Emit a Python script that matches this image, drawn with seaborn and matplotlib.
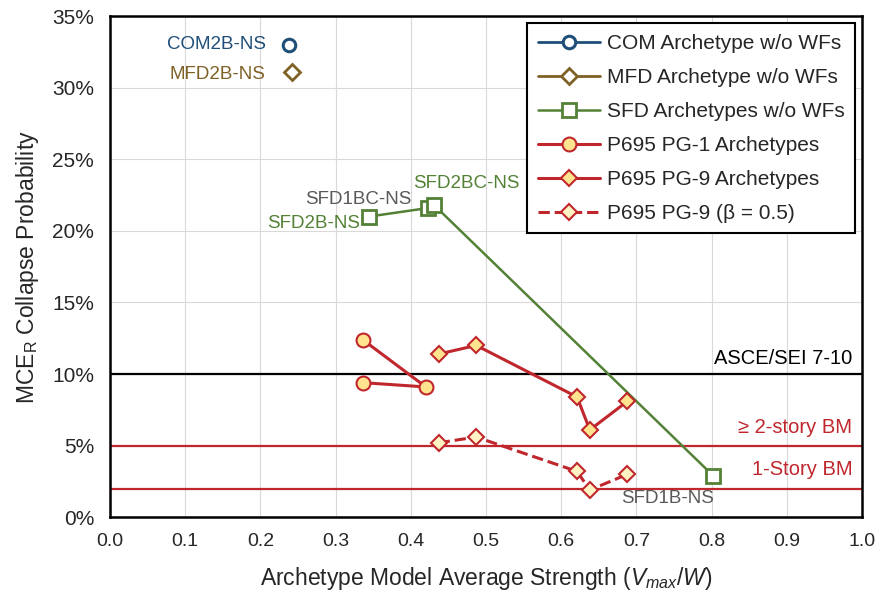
import numpy as np
import matplotlib
matplotlib.use("Agg")
import matplotlib.pyplot as plt
import seaborn as sns
from matplotlib.ticker import FuncFormatter

# data
com_x = [0.238]
com_y = [33.0]
mfd_x = [0.242]
mfd_y = [31.1]
sfd_x = [0.344, 0.423, 0.431, 0.802]
sfd_y = [21.0, 21.6, 21.8, 2.9]
sfd_names = ["SFD2B-NS", "SFD1BC-NS", "SFD2BC-NS", "SFD1B-NS"]
pg1_x = [0.336, 0.420, 0.336]
pg1_y = [12.4, 9.1, 9.4]
pg9_x = [0.437, 0.487, 0.621, 0.638, 0.688]
pg9_y = [11.4, 12.0, 8.4, 6.1, 8.1]
pg9b_x = [0.437, 0.487, 0.621, 0.638, 0.688]
pg9b_y = [5.2, 5.6, 3.2, 1.9, 3.0]
limit_lines = [10, 5, 2]
limit_labels = ["ASCE/SEI 7-10", "≥ 2-story BM", "1-Story BM"]

blue = "#1F4E79"
brown = "#7F6025"
green = "#538135"
red = "#C0272D"
gray = "#595959"
gold = "#FFE38F"
pale = "#FFF3C4"

sns.set_style("whitegrid", {"grid.color": "#D9D9D9", "axes.edgecolor": "black"})
plt.rcParams['font.family'] = ['Liberation Sans', 'DejaVu Sans']
plt.rcParams['mathtext.fontset'] = 'custom'
plt.rcParams['mathtext.rm'] = 'Liberation Sans'
plt.rcParams['mathtext.it'] = 'Liberation Sans:italic'

fig = plt.figure(figsize=(8.91, 6), dpi=100)
ax = fig.add_axes([0.1235, 0.138, 0.844, 0.835])

for val, col in zip(limit_lines, ["black", red, red]):
    ax.axhline(val, color=col, linewidth=1.6, zorder=2)

common = dict(ax=ax, estimator=None, sort=False, zorder=4)
sns.lineplot(x=com_x, y=com_y, color=blue, marker="o", markersize=9,
             markerfacecolor="white", markeredgecolor=blue, markeredgewidth=2.2,
             linewidth=2, label="COM Archetype w/o WFs", **common)
sns.lineplot(x=mfd_x, y=mfd_y, color=brown, marker="D", markersize=8,
             markerfacecolor="white", markeredgecolor=brown, markeredgewidth=2,
             linewidth=2, label="MFD Archetype w/o WFs", **common)
sns.lineplot(x=sfd_x, y=sfd_y, color=green, marker="s", markersize=10,
             markerfacecolor="white", markeredgecolor=green, markeredgewidth=2,
             linewidth=1.8, label="SFD Archetypes w/o WFs", **common)
sns.lineplot(x=pg1_x, y=pg1_y, color=red, marker="o", markersize=10,
             markerfacecolor=gold, markeredgecolor=red, markeredgewidth=1.5,
             linewidth=2.2, label="P695 PG-1 Archetypes", **common)
sns.lineplot(x=pg9_x, y=pg9_y, color=red, marker="D", markersize=8,
             markerfacecolor=gold, markeredgecolor=red, markeredgewidth=1.5,
             linewidth=2.2, label="P695 PG-9 Archetypes", **common)
sns.lineplot(x=pg9b_x, y=pg9b_y, color=red, marker="D", markersize=8,
             markerfacecolor=pale, markeredgecolor=red, markeredgewidth=1.5,
             linewidth=2.2, linestyle="--", label="P695 PG-9 (β = 0.5)", **common)

# point labels
fs = 13.5
ax.text(com_x[0] - 0.03, com_y[0], "COM2B-NS", color=blue, fontsize=fs,
        ha="right", va="center")
ax.text(mfd_x[0] - 0.036, mfd_y[0] - 0.2, "MFD2B-NS", color=brown, fontsize=fs,
        ha="right", va="center")
ax.text(0.332, 20.5, sfd_names[0], color=green, fontsize=fs, ha="right", va="center")
ax.text(0.4005, 22.2, sfd_names[1], color=gray, fontsize=fs, ha="right", va="center")
ax.text(0.403, 23.3, sfd_names[2], color=green, fontsize=fs, ha="left", va="center")
ax.text(0.803, 1.3, sfd_names[3], color=gray, fontsize=fs, ha="right", va="center")

# limit labels
ax.text(0.987, 11.1, limit_labels[0], color="black", fontsize=14.5, ha="right", va="center")
ax.text(0.987, 6.3, limit_labels[1], color=red, fontsize=14.5, ha="right", va="center")
ax.text(0.987, 3.3, limit_labels[2], color=red, fontsize=14.5, ha="right", va="center")

ax.set_xlim(0, 1.0)
ax.set_ylim(0, 35)
ax.set_xticks(np.arange(0, 1.01, 0.1))
ax.set_yticks(np.arange(0, 36, 5))
ax.yaxis.set_major_formatter(FuncFormatter(lambda v, p: "{:.0f}%".format(v)))
ax.xaxis.set_major_formatter(FuncFormatter(lambda v, p: "{:.1f}".format(v)))
ax.tick_params(axis="x", labelsize=14, pad=8)
ax.tick_params(axis="y", labelsize=15, pad=8)
for s in ax.spines.values():
    s.set_linewidth(1.8)
    s.set_color("black")

ax.set_xlabel(r"Archetype Model Average Strength ($\mathit{V_{max}}$/$\mathit{W}$)",
              fontsize=16.5, labelpad=11)
ax.set_ylabel(r"MCE$_\mathrm{R}$ Collapse Probability", fontsize=16.5, labelpad=8)

leg = ax.legend(loc="upper right", fontsize=15, frameon=True, fancybox=False,
                edgecolor="black", framealpha=1, handlelength=3.0,
                borderpad=0.5, labelspacing=0.72, borderaxespad=0.35,
                handletextpad=0.3)
leg.get_frame().set_linewidth(1.5)

fig.savefig("out.png", dpi=100)
plt.close()
